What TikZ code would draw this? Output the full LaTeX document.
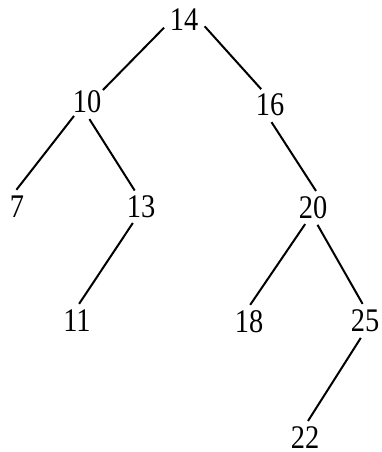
\documentclass[tikz,border=0pt]{standalone}
\usepackage{fontspec}
\usepackage{graphicx}
\setmainfont{Liberation Serif}
\usetikzlibrary{shapes.geometric}
\newcommand{\keynum}[1]{\scalebox{0.86}[1]{#1}}
\begin{document}
\begin{tikzpicture}[x=1pt, y=-1pt]
    % Vùng hiển thị
    \useasboundingbox (0, 0) rectangle (381, 452);
    \tikzset{
        key/.style={ellipse, minimum width=44pt, minimum height=34pt, inner sep=0pt,
                    font=\fontsize{33}{33}\selectfont},
        edge/.style={line width=2pt, black}
    }

    % Các nút của cây
    \node[key] (n14) at (184, 20) {\keynum{14}};
    \node[key] (n10) at (87, 102) {\keynum{10}};
    \node[key] (n16) at (270, 105) {\keynum{16}};
    \node[key] (n7) at (17, 207) {\keynum{7}};
    \node[key] (n13) at (141, 207) {\keynum{13}};
    \node[key] (n20) at (313, 208) {\keynum{20}};
    \node[key] (n11) at (77, 321) {\keynum{11}};
    \node[key] (n18) at (249, 322) {\keynum{18}};
    \node[key] (n25) at (365, 321) {\keynum{25}};
    \node[key] (n22) at (305, 438) {\keynum{22}};

    % Các cạnh
    \draw[edge] (n14.201) -- (n10.37);
    \draw[edge] (n14.343) -- (n16.119);
    \draw[edge] (n10.227) -- (n7.92);
    \draw[edge] (n10.278) -- (n13.111);
    \draw[edge] (n16.275) -- (n20.80);
    \draw[edge] (n13.243) -- (n11.83);
    \draw[edge] (n20.244) -- (n18.86);
    \draw[edge] (n20.285) -- (n25.98);
    \draw[edge] (n25.256) -- (n22.80);
\end{tikzpicture}
\end{document}
